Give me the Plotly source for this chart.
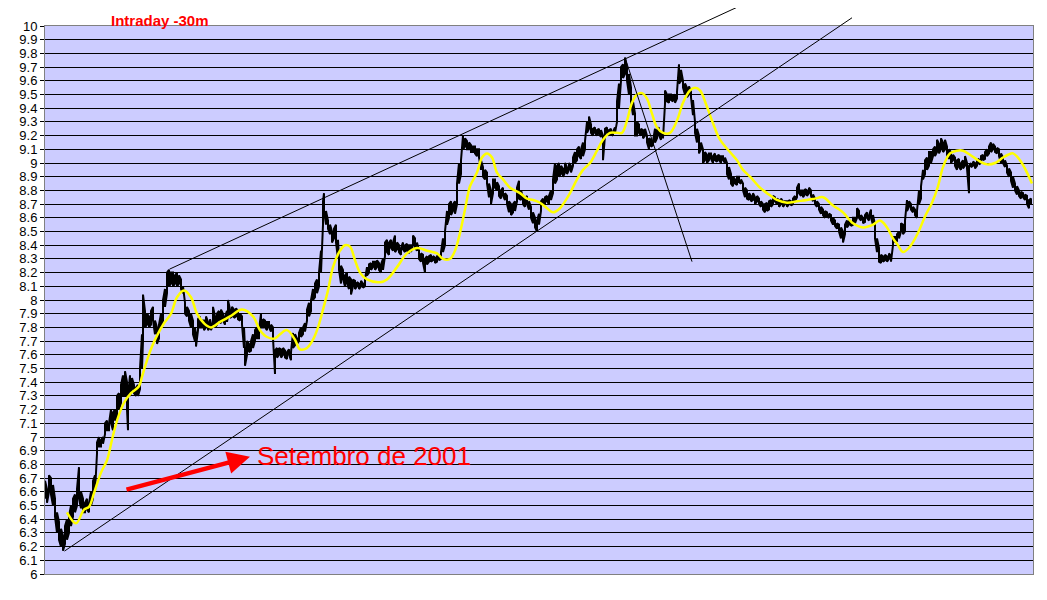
import plotly.graph_objects as go

# ---- price bars (bar number, low, high) ----
bar_x = [0, 2, 4, 6, 8, 10, 12, 14, 16, 18, 20, 22, 24, 26, 28, 30, 32, 34, 36, 38, 40, 42, 44, 46, 48, 50,
         52, 54, 56, 58, 60, 62, 64, 66, 68, 70, 72, 74, 76, 78, 80, 82, 83, 85, 87, 89, 91, 93, 95, 97, 98,
         100, 102, 104, 106, 108, 110, 112, 114, 116, 118, 120, 122, 124, 126, 128, 130, 132, 134, 136, 138,
         140, 142, 144, 146, 148, 150, 151, 153, 155, 157, 159, 161, 163, 165,
         166, 168, 170, 172, 174, 176, 178, 180, 182, 183, 185, 187, 189, 191, 193, 195, 197, 199, 200, 202,
         204, 206, 208, 210, 212, 214, 216, 218, 220, 222, 224, 226, 228, 230, 232, 234, 236, 238, 240, 242,
         244, 246, 248, 250, 252, 254, 256, 258, 260, 262, 264, 266, 268, 270, 272, 274, 276, 278, 279, 281,
         283, 285, 287, 289, 291, 293, 294, 296, 298, 300, 302, 304, 306, 308, 310, 312, 314, 316, 318, 320,
         322, 324, 326, 328, 330, 332, 334, 336, 338, 340, 342, 344, 346, 348, 350, 352, 354, 356, 358, 360,
         362, 364, 366, 368, 370, 372, 374, 376, 378, 380, 382, 384, 386, 388, 390, 392, 394, 396, 398, 400,
         402, 404, 406, 408, 410, 412, 414, 416, 418, 420, 422, 424, 426, 428, 430, 432, 434, 436, 438, 440,
         442, 444, 446, 448, 450, 452, 454, 456, 458, 460, 462, 464, 466, 468, 470, 472, 474, 476, 478, 480,
         482, 484, 486, 488, 490, 492, 494, 496, 498, 500, 502, 504, 506, 508, 510, 512, 514, 516, 518, 520,
         522, 524, 526, 528, 530, 532, 534, 536, 538, 540, 542, 544, 546, 548, 550, 552, 554, 556, 558, 560,
         562, 564, 566, 568, 570, 572, 574, 576, 578, 580, 582, 584, 586, 588, 590, 592, 594, 596, 598, 600,
         602, 604, 606, 608, 610, 612, 614, 616, 618, 620, 622, 624, 626, 628, 630, 632, 634, 636, 638, 640,
         642, 644, 646, 648, 650, 652, 654, 656, 658, 660, 662, 664, 666, 668, 670, 672, 674, 676, 678, 680,
         682, 684, 686, 688, 690, 692, 694, 696, 698, 700, 702, 704, 706, 708, 710, 712, 714, 716, 718, 720,
         722, 724, 726, 728, 730, 732, 734, 736, 738, 740, 742, 744, 746, 748, 750, 752, 754, 756, 758, 760,
         762, 764, 766, 768, 770, 772, 774, 776, 778, 780, 782, 784, 786, 788, 790, 792, 794, 796, 798, 800,
         802, 804, 806, 808, 810, 812, 814, 816, 818, 820, 822, 824, 826, 828, 830, 832, 834, 836, 838, 840,
         842, 844, 846, 848, 850, 852, 854, 856, 858, 860, 862, 864, 866, 868, 870, 872, 874, 876, 878, 880,
         882, 884, 886, 888, 890, 892, 894, 896, 898, 900, 902, 904, 906, 908, 910, 912, 914, 916, 918, 920,
         922, 924, 926, 928, 930, 932, 934, 936, 938, 940, 942, 944, 946, 948, 950, 952, 954, 956, 958, 960,
         962, 964, 966, 968, 970, 972, 974, 976, 978, 980, 982, 984, 986]
bar_lo = [6.55, 6.52, 6.60, 6.58, 6.50, 6.42, 6.30, 6.25, 6.20, 6.17, 6.22, 6.25, 6.30, 6.35, 6.42, 6.45, 6.50, 6.55, 6.48, 6.45, 6.45, 6.47, 6.45, 6.50, 6.55, 6.60,
          6.88, 6.93, 6.93, 6.95, 7.02, 7.05, 7.05, 7.10, 7.05, 7.12, 7.15, 7.20, 7.25, 7.30, 7.30, 7.20, 7.05, 7.30, 7.35, 7.32, 7.30, 7.30, 7.35, 7.50, 7.70,
          7.80, 7.82, 7.80, 7.82, 7.85, 7.75, 7.68, 7.72, 7.80, 7.85, 7.95, 8.05, 8.10, 8.12, 8.10, 8.12, 8.10, 8.12, 8.08, 8.05,
          7.90, 7.88, 7.85, 7.80, 7.75, 7.70, 7.66, 7.78, 7.80, 7.80, 7.78, 7.80, 7.78, 7.80,
          7.78, 7.82, 7.80, 7.82, 7.85, 7.83, 7.85, 7.82, 7.84, 7.88, 7.87, 7.88, 7.87, 7.88, 7.86, 7.85, 7.82, 7.65, 7.52, 7.60,
          7.62, 7.63, 7.65, 7.70, 7.72, 7.72, 7.80, 7.80, 7.80, 7.78, 7.80, 7.77, 7.72, 7.46, 7.58, 7.60, 7.58, 7.60, 7.58, 7.57,
          7.60, 7.56, 7.65, 7.67, 7.68, 7.70, 7.73, 7.75, 7.77, 7.85, 7.88, 7.92, 8.00, 8.02, 8.05, 8.10, 8.20, 8.55, 8.65, 8.55,
          8.52, 8.48, 8.42, 8.45, 8.42, 8.30, 8.22, 8.12, 8.15, 8.10, 8.12, 8.08, 8.04, 8.10, 8.08, 8.10, 8.08, 8.10, 8.09, 8.10,
          8.18, 8.20, 8.22, 8.24, 8.22, 8.24, 8.22, 8.20, 8.22, 8.32, 8.35, 8.33, 8.38, 8.36, 8.35, 8.37, 8.35, 8.33, 8.37, 8.35,
          8.36, 8.34, 8.35, 8.40, 8.38, 8.36, 8.30, 8.28, 8.27, 8.20, 8.26, 8.28, 8.28, 8.29, 8.27, 8.28, 8.29, 8.30, 8.35, 8.40,
          8.55, 8.60, 8.62, 8.65, 8.63, 8.70, 8.85, 8.92, 9.10, 9.12, 9.10, 9.10, 9.08, 9.08, 9.07, 9.05, 9.04, 8.95, 8.90, 8.88,
          8.85, 8.75, 8.70, 8.78, 8.82, 8.80, 8.76, 8.74, 8.76, 8.73, 8.70, 8.64, 8.62, 8.64, 8.65, 8.72, 8.74, 8.73, 8.70, 8.68,
          8.70, 8.66, 8.60, 8.56, 8.53, 8.50, 8.55, 8.65, 8.70, 8.70, 8.72, 8.70, 8.73, 8.78, 8.85, 8.88, 8.90, 8.92, 8.90, 8.93,
          8.92, 8.95, 8.93, 8.98, 9.00, 9.02, 9.05, 9.03, 9.05, 9.10, 9.22, 9.25, 9.22, 9.20, 9.22, 9.20, 9.21, 9.19, 9.02, 9.20,
          9.22, 9.20, 9.21, 9.20, 9.22, 9.30, 9.40, 9.60, 9.62, 9.65, 9.60, 9.50, 9.45, 9.35, 9.20, 9.20, 9.22, 9.20, 9.18, 9.20,
          9.15, 9.10, 9.12, 9.13, 9.15, 9.18, 9.20, 9.17, 9.18, 9.43, 9.45, 9.44, 9.46, 9.45, 9.44, 9.47, 9.58, 9.60, 9.55, 9.50,
          9.48, 9.50, 9.48, 9.35, 9.22, 9.15, 9.07, 9.10, 9.00, 9.02, 9.00, 9.02, 9.03, 9.00, 9.02, 9.01, 9.02, 9.00, 9.02, 9.00,
          8.92, 8.88, 8.85, 8.83, 8.85, 8.84, 8.86, 8.85, 8.80, 8.75, 8.74, 8.73, 8.72, 8.73, 8.70, 8.72, 8.70, 8.68, 8.66, 8.64,
          8.65, 8.66, 8.68, 8.70, 8.72, 8.70, 8.68, 8.70, 8.68, 8.70, 8.68, 8.70, 8.69, 8.70, 8.72, 8.75, 8.78, 8.76, 8.75, 8.77,
          8.76, 8.78, 8.76, 8.72, 8.70, 8.68, 8.66, 8.63, 8.62, 8.60, 8.61, 8.60, 8.58, 8.55, 8.54, 8.52, 8.50, 8.45, 8.42, 8.48,
          8.53, 8.55, 8.54, 8.55, 8.56, 8.60, 8.60, 8.58, 8.56, 8.57, 8.60, 8.58, 8.60, 8.55, 8.45, 8.35, 8.28, 8.27, 8.28, 8.29,
          8.28, 8.30, 8.28, 8.40, 8.42, 8.43, 8.45, 8.50, 8.48, 8.50, 8.65, 8.68, 8.66, 8.64, 8.62, 8.60, 8.70, 8.74, 8.88, 8.92,
          8.95, 8.98, 9.00, 9.05, 9.05, 9.08, 9.07, 9.10, 9.08, 9.10, 9.06, 9.03, 9.00, 9.02, 8.98, 8.95, 8.97, 8.95, 8.96, 8.98,
          8.96, 8.78, 8.97, 8.98, 8.96, 8.98, 8.99, 9.00, 9.02, 9.03, 9.05, 9.07, 9.08, 9.10, 9.08, 9.07, 9.05, 9.00, 9.00, 8.97,
          8.93, 8.90, 8.87, 8.82, 8.80, 8.77, 8.76, 8.74, 8.75, 8.73, 8.70, 8.67, 8.70]
bar_hi = [6.68, 6.62, 6.72, 6.70, 6.65, 6.55, 6.45, 6.38, 6.33, 6.28, 6.35, 6.40, 6.42, 6.50, 6.55, 6.58, 6.62, 6.78, 6.60, 6.55, 6.52, 6.55, 6.52, 6.60, 6.68, 6.72,
          6.96, 7.00, 6.98, 7.00, 7.10, 7.12, 7.10, 7.20, 7.18, 7.20, 7.30, 7.32, 7.38, 7.45, 7.48, 7.40, 7.30, 7.45, 7.43, 7.38, 7.36, 7.38, 7.50, 7.75, 8.04,
          7.92, 7.90, 7.88, 7.92, 7.95, 7.85, 7.80, 7.82, 7.90, 8.00, 8.08, 8.20, 8.22, 8.20, 8.20, 8.18, 8.20, 8.18, 8.15, 8.10,
          7.98, 7.95, 7.92, 7.90, 7.85, 7.80, 7.75, 7.86, 7.88, 7.85, 7.85, 7.88, 7.84, 7.86,
          7.83, 7.95, 7.88, 7.90, 7.92, 7.93, 7.90, 7.88, 7.92, 8.00, 7.93, 7.95, 7.93, 7.94, 7.92, 7.90, 7.88, 7.80, 7.65, 7.70,
          7.68, 7.70, 7.75, 7.78, 7.80, 7.78, 7.90, 7.86, 7.85, 7.84, 7.84, 7.82, 7.80, 7.63, 7.65, 7.65, 7.64, 7.65, 7.63, 7.62,
          7.64, 7.62, 7.76, 7.75, 7.72, 7.76, 7.80, 7.80, 7.83, 7.93, 7.98, 8.00, 8.08, 8.12, 8.15, 8.20, 8.36, 8.72, 8.78, 8.65,
          8.58, 8.55, 8.50, 8.52, 8.55, 8.44, 8.30, 8.25, 8.22, 8.18, 8.20, 8.17, 8.15, 8.15, 8.14, 8.13, 8.12, 8.14, 8.12, 8.15,
          8.24, 8.26, 8.27, 8.28, 8.28, 8.29, 8.27, 8.26, 8.30, 8.42, 8.44, 8.42, 8.44, 8.42, 8.47, 8.42, 8.40, 8.38, 8.42, 8.40,
          8.41, 8.40, 8.40, 8.47, 8.45, 8.42, 8.36, 8.34, 8.33, 8.30, 8.32, 8.32, 8.33, 8.32, 8.31, 8.32, 8.33, 8.35, 8.45, 8.50,
          8.65, 8.70, 8.72, 8.70, 8.72, 8.85, 9.00, 9.02, 9.20, 9.18, 9.16, 9.15, 9.13, 9.12, 9.12, 9.10, 9.10, 9.02, 8.97, 8.95,
          8.93, 8.85, 8.80, 8.88, 8.88, 8.86, 8.83, 8.80, 8.82, 8.78, 8.76, 8.72, 8.70, 8.70, 8.72, 8.82, 8.87, 8.80, 8.75, 8.74,
          8.76, 8.72, 8.68, 8.64, 8.60, 8.58, 8.63, 8.72, 8.74, 8.75, 8.76, 8.76, 8.80, 8.88, 9.00, 8.98, 9.00, 8.98, 8.96, 9.00,
          8.97, 9.00, 8.98, 9.04, 9.08, 9.10, 9.12, 9.10, 9.15, 9.16, 9.30, 9.34, 9.28, 9.25, 9.26, 9.24, 9.25, 9.24, 9.20, 9.25,
          9.26, 9.24, 9.25, 9.23, 9.26, 9.45, 9.58, 9.70, 9.72, 9.77, 9.70, 9.65, 9.55, 9.45, 9.36, 9.30, 9.28, 9.25, 9.24, 9.25,
          9.20, 9.18, 9.17, 9.16, 9.25, 9.24, 9.26, 9.22, 9.22, 9.53, 9.50, 9.50, 9.50, 9.49, 9.50, 9.52, 9.72, 9.68, 9.60, 9.58,
          9.55, 9.56, 9.52, 9.46, 9.30, 9.25, 9.20, 9.15, 9.10, 9.08, 9.06, 9.07, 9.07, 9.05, 9.07, 9.05, 9.06, 9.05, 9.05, 9.04,
          9.00, 8.97, 8.92, 8.90, 8.88, 8.90, 8.90, 8.88, 8.85, 8.82, 8.80, 8.78, 8.76, 8.78, 8.75, 8.76, 8.74, 8.72, 8.70, 8.70,
          8.71, 8.72, 8.73, 8.76, 8.75, 8.74, 8.73, 8.74, 8.72, 8.72, 8.72, 8.73, 8.72, 8.74, 8.76, 8.82, 8.85, 8.80, 8.80, 8.81,
          8.80, 8.82, 8.80, 8.77, 8.74, 8.72, 8.70, 8.68, 8.66, 8.65, 8.64, 8.63, 8.62, 8.60, 8.58, 8.56, 8.55, 8.53, 8.50, 8.55,
          8.58, 8.58, 8.57, 8.60, 8.60, 8.67, 8.65, 8.62, 8.60, 8.62, 8.64, 8.62, 8.66, 8.62, 8.55, 8.45, 8.38, 8.33, 8.32, 8.33,
          8.32, 8.34, 8.32, 8.46, 8.46, 8.48, 8.50, 8.56, 8.55, 8.58, 8.73, 8.72, 8.70, 8.68, 8.66, 8.65, 8.80, 8.83, 8.95, 9.02,
          9.04, 9.08, 9.08, 9.10, 9.12, 9.17, 9.14, 9.18, 9.15, 9.17, 9.12, 9.10, 9.08, 9.06, 9.04, 9.02, 9.03, 9.00, 9.02, 9.05,
          9.00, 8.98, 9.00, 9.01, 9.00, 9.02, 9.03, 9.05, 9.06, 9.08, 9.10, 9.12, 9.15, 9.14, 9.12, 9.11, 9.10, 9.07, 9.04, 9.02,
          8.98, 8.96, 8.93, 8.90, 8.85, 8.83, 8.80, 8.79, 8.78, 8.77, 8.76, 8.73, 8.74]

# ---- moving average (yellow) ----
ma_x = [22, 31, 39, 44, 49, 56, 62, 67, 72, 79, 86, 94, 97, 102, 107, 112, 119, 126, 132, 139, 146, 152, 159, 166,
        175, 185, 197, 208, 215, 222, 230, 235, 242, 250, 255, 262, 268, 273, 278, 283, 288, 295, 300, 305, 310, 315,
        322, 335, 342, 352, 362, 372, 382, 392, 398, 405, 410, 415, 420, 425, 432, 437, 442, 447, 452, 458, 465, 475,
        482, 488, 495, 502, 508, 515, 520, 525, 532, 538, 545, 552, 558, 565, 572, 577, 582, 587, 592, 597, 602, 607,
        612, 618, 625, 632, 638, 645, 650, 655, 662, 668, 675, 685, 692, 698, 705, 715, 722, 732, 742, 752, 762, 770,
        778, 788, 798, 808, 818, 828, 835, 842, 848, 853, 858, 865, 873, 880, 887, 893, 898, 905, 912, 918, 925, 933,
        942, 950, 958, 963, 968, 975, 982, 987]
ma_y = [6.45, 6.37, 6.47, 6.49, 6.59, 6.74, 6.83, 6.98, 7.12, 7.25, 7.32, 7.37, 7.44, 7.56, 7.66, 7.74, 7.83, 7.90,
        8.02, 8.07, 8.02, 7.90, 7.83, 7.80, 7.84, 7.88, 7.93, 7.88, 7.78, 7.73, 7.72, 7.75, 7.78, 7.71, 7.64, 7.65,
        7.71, 7.80, 7.93, 8.07, 8.24, 8.36, 8.40, 8.39, 8.29, 8.20, 8.15, 8.13, 8.15, 8.24, 8.34, 8.38, 8.36, 8.34,
        8.30, 8.30, 8.36, 8.49, 8.66, 8.83, 8.93, 9.04, 9.07, 9.04, 8.93, 8.88, 8.82, 8.78, 8.74, 8.73, 8.71, 8.67,
        8.64, 8.67, 8.72, 8.78, 8.88, 8.95, 9.00, 9.09, 9.17, 9.22, 9.22, 9.22, 9.31, 9.44, 9.50, 9.51, 9.47, 9.36,
        9.26, 9.22, 9.22, 9.31, 9.44, 9.53, 9.55, 9.53, 9.41, 9.29, 9.17, 9.08, 9.02, 8.95, 8.90, 8.82, 8.78, 8.73,
        8.71, 8.72, 8.73, 8.74, 8.75, 8.69, 8.64, 8.56, 8.53, 8.55, 8.58, 8.53, 8.45, 8.40, 8.35, 8.39, 8.49, 8.61,
        8.71, 8.83, 8.97, 9.07, 9.09, 9.09, 9.06, 9.02, 8.99, 9.00, 9.04, 9.06, 9.07, 9.02, 8.93, 8.85, 8.78]

# ---- trend lines (start bar, start price, end bar, end price) ----
trend_x0 = [123, 18, 580]
trend_y0 = [8.22, 6.16, 9.77]
trend_x1 = [693, 807, 647]
trend_y1 = [10.14, 10.06, 8.28]

# ---- red arrow and its label ----
arrow_x = [80, 205]
arrow_y = [6.613, 6.855]
label_text = "Setembro de 2001"
label_x = 210
label_y = 6.865

tick_vals = [6.0, 6.1, 6.2, 6.3, 6.4, 6.5, 6.6, 6.7, 6.8, 6.9, 7.0, 7.1, 7.2, 7.3, 7.4, 7.5, 7.6, 7.7, 7.8, 7.9,
             8.0, 8.1, 8.2, 8.3, 8.4, 8.5, 8.6, 8.7, 8.8, 8.9, 9.0, 9.1, 9.2, 9.3, 9.4, 9.5, 9.6, 9.7, 9.8, 9.9, 10.0]
tick_labels = ["6", "6.1", "6.2", "6.3", "6.4", "6.5", "6.6", "6.7", "6.8", "6.9", "7", "7.1", "7.2", "7.3", "7.4",
               "7.5", "7.6", "7.7", "7.8", "7.9", "8", "8.1", "8.2", "8.3", "8.4", "8.5", "8.6", "8.7", "8.8", "8.9",
               "9", "9.1", "9.2", "9.3", "9.4", "9.5", "9.6", "9.7", "9.8", "9.9", "10"]

# build zig-zag path of high/low bars
px, py = [], []
for i, (x, lo, hi) in enumerate(zip(bar_x, bar_lo, bar_hi)):
    if i % 2 == 0:
        px += [x, x]; py += [lo, hi]
    else:
        px += [x, x]; py += [hi, lo]

fig = go.Figure()
fig.add_trace(go.Scatter(x=px, y=py, mode="lines", line=dict(color="black", width=2),
                         hoverinfo="skip", showlegend=False))
fig.add_trace(go.Scatter(x=ma_x, y=ma_y, mode="lines", line=dict(color="#FFFF00", width=2.5, shape="spline"),
                         showlegend=False))

annotations = []
for x0, y0, x1, y1 in zip(trend_x0, trend_y0, trend_x1, trend_y1):
    annotations.append(dict(x=x1, y=y1, ax=x0, ay=y0, xref="x", yref="y", axref="x", ayref="y",
                            showarrow=True, arrowhead=0, arrowwidth=1, arrowcolor="black", text=""))
annotations.append(dict(x=arrow_x[1], y=arrow_y[1], ax=arrow_x[0], ay=arrow_y[0], xref="x", yref="y",
                        axref="x", ayref="y", showarrow=True, arrowhead=2, arrowsize=1.0, arrowwidth=4.5,
                        arrowcolor="#FF0000", text=""))
annotations.append(dict(x=label_x, y=label_y, xref="x", yref="y", text=label_text, showarrow=False,
                        xanchor="left", yanchor="middle",
                        font=dict(family="Liberation Sans, Arial", size=26, color="#FF0000")))
annotations.append(dict(x=0.116, y=1.0, xref="paper", yref="paper", text="<b>Intraday -30m</b>",
                        showarrow=False, xanchor="center", yanchor="top", yshift=16,
                        font=dict(family="Liberation Sans, Arial", size=15, color="#FF0000")))

fig.update_layout(
    width=1031, height=584,
    margin=dict(l=37, r=6, t=18, b=18, autoexpand=False),
    paper_bgcolor="white", plot_bgcolor="#CCCCFF",
    annotations=annotations,
    xaxis=dict(range=[0, 988], showgrid=False, zeroline=False, showticklabels=False, ticks="",
               showline=True, linecolor="#808080", linewidth=1, mirror=True),
    yaxis=dict(range=[6, 10], tickvals=tick_vals, ticktext=tick_labels, showgrid=True, gridcolor="black",
               gridwidth=1, zeroline=False, ticks="outside", ticklen=4, tickcolor="black",
               showline=True, linecolor="#808080", linewidth=1, mirror=True, automargin=False,
               tickfont=dict(family="Liberation Sans, Arial", size=13, color="black")),
)

fig.write_html("out.html")
